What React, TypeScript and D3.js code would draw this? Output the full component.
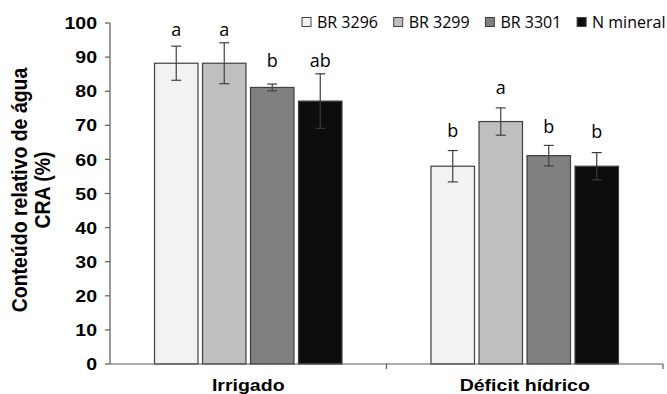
import React from "react";
import * as d3 from "d3";

const categories = ["Irrigado", "Déficit hídrico"];
const seriesNames = ["BR 3296", "BR 3299", "BR 3301", "N mineral"];
const seriesColors = ["#f2f2f2", "#bfbfbf", "#808080", "#0d0d0d"];
// values[category][series]
const means = [
  [88.2, 88.2, 81.1, 77.1],
  [58.0, 71.1, 61.1, 58.0],
];
const errors = [
  [5.0, 6.0, 1.0, 8.0],
  [4.6, 4.0, 3.0, 4.0],
];
const letters = [
  ["a", "a", "b", "ab"],
  ["b", "a", "b", "b"],
];
const letterLevels = [
  [96.3, 96.3, 87.1, 87.1],
  [66.7, 79.2, 67.7, 66.3],
];
const yTicks = [0, 10, 20, 30, 40, 50, 60, 70, 80, 90, 100];

const W = 667;
const H = 394;
const left = 110;
const right = 663;
const top = 23;
const bottom = 364;

const boldFont = "'Liberation Sans', Arial, sans-serif";
const lightFont = "'Open Sans', 'Noto Sans', sans-serif";
const SX = 1.15;

export default function App() {
  const x = d3.scaleBand<string>().domain(categories).range([left, right]).padding(0);
  const y = d3.scaleLinear().domain([0, 100]).range([bottom, top]);
  const inner = d3
    .scaleBand<string>()
    .domain(seriesNames)
    .range([-96, 96])
    .paddingInner(0.094)
    .paddingOuter(0.047);
  const axisColor = "#5a5a5a";

  return (
    <svg width={W} height={H} style={{ position: "absolute", left: 0, top: 0, background: "#fff" }}>
      {/* bars */}
      {categories.map((c, ci) => {
        const cx = x(c)! + x.bandwidth() / 2;
        return (
          <g key={c}>
            {seriesNames.map((s, si) => {
              const bx = cx + inner(s)!;
              const bw = inner.bandwidth();
              const v = means[ci][si];
              const e = errors[ci][si];
              const mid = bx + bw / 2;
              return (
                <g key={s}>
                  <rect
                    x={bx}
                    y={y(v)}
                    width={bw}
                    height={y(0) - y(v)}
                    fill={seriesColors[si]}
                    stroke="#404040"
                    strokeWidth={1.2}
                  />
                  <g stroke={si === 3 ? "#3a3a3a" : "#404040"} strokeWidth={1.2}>
                    <line x1={mid} x2={mid} y1={y(v + e)} y2={y(v - e)} />
                    <line x1={mid - 5} x2={mid + 5} y1={y(v + e)} y2={y(v + e)} />
                    <line x1={mid - 5} x2={mid + 5} y1={y(v - e)} y2={y(v - e)} />
                  </g>
                  <text
                    x={mid}
                    y={y(letterLevels[ci][si])}
                    textAnchor="middle"
                    fontFamily={lightFont}
                    fontSize={18}
                    fill="#000"
                  >
                    {letters[ci][si]}
                  </text>
                </g>
              );
            })}
          </g>
        );
      })}

      {/* y axis */}
      <line x1={left} x2={left} y1={y(100)} y2={y(0)} stroke={axisColor} strokeWidth={1.2} />
      {yTicks.map((t) => (
        <g key={t}>
          <line x1={left - 5} x2={left} y1={y(t)} y2={y(t)} stroke={axisColor} strokeWidth={1.2} />
          <g transform={`translate(${left - 13},${y(t)}) scale(${SX},1)`}>
            <text
              textAnchor="end"
              dy="0.36em"
              fontFamily={boldFont}
              fontWeight="bold"
              fontSize={17}
              fill="#000"
            >
              {t}
            </text>
          </g>
        </g>
      ))}

      {/* x axis */}
      <line x1={left} x2={right} y1={y(0)} y2={y(0)} stroke={axisColor} strokeWidth={1.2} />
      {categories.map((c) => (
        <line
          key={c + "t"}
          x1={x(c)! + x.bandwidth()}
          x2={x(c)! + x.bandwidth()}
          y1={y(0)}
          y2={y(0) + 5}
          stroke={axisColor}
          strokeWidth={1.2}
        />
      ))}
      {categories.map((c) => (
        <g key={c + "l"} transform={`translate(${x(c)! + x.bandwidth() / 2},391) scale(${SX},1)`}>
          <text textAnchor="middle" fontFamily={boldFont} fontWeight="bold" fontSize={17} fill="#000">
            {c}
          </text>
        </g>
      ))}

      {/* y title */}
      <g transform={`translate(27,190) scale(${SX},1) rotate(-90)`}>
        <text textAnchor="middle" fontFamily={boldFont} fontWeight="bold" fontSize={19.5} fill="#000">
          Conteúdo relativo de água
        </text>
      </g>
      <g transform={`translate(50,190) scale(${SX},1) rotate(-90)`}>
        <text textAnchor="middle" fontFamily={boldFont} fontWeight="bold" fontSize={19.5} fill="#000">
          CRA (%)
        </text>
      </g>

      {/* legend */}
      {seriesNames.map((s, i) => {
        const lx = 302 + i * 91.7;
        return (
          <g key={s + "leg"}>
            <rect x={lx} y={17.5} width={9} height={9} fill={seriesColors[i]} stroke="#404040" strokeWidth={1} />
            <text x={lx + 15} y={27.5} fontFamily={lightFont} fontSize={16} fill="#000">
              {s}
            </text>
          </g>
        );
      })}
    </svg>
  );
}
